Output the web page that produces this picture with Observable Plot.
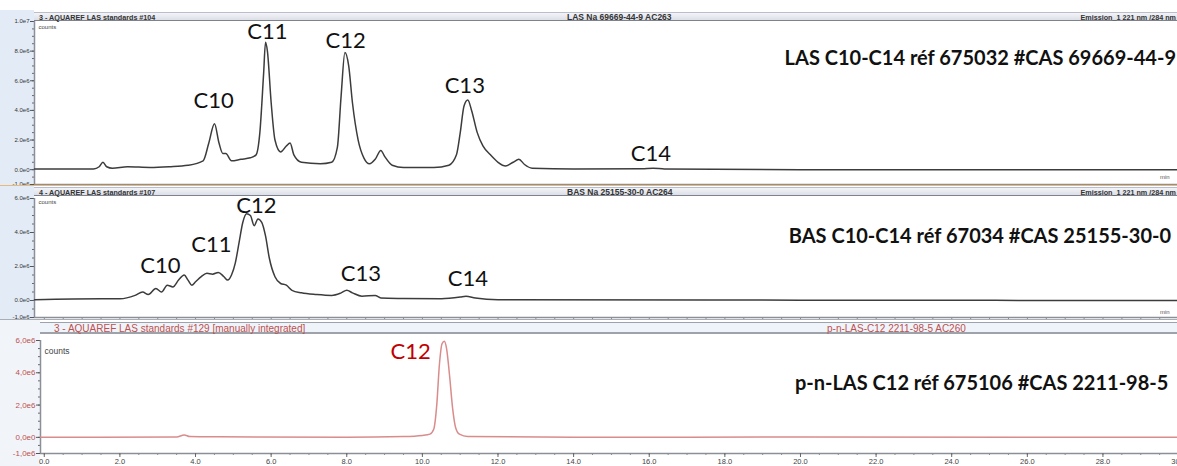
<!DOCTYPE html>
<html><head><meta charset="utf-8">
<script src="https://cdn.jsdelivr.net/npm/d3@7"></script>
<script src="https://cdn.jsdelivr.net/npm/@observablehq/plot@0.6"></script>
<style>
html,body{margin:0;padding:0;background:#fff;overflow:hidden;}
#chart{position:relative;width:1177px;height:466px;overflow:hidden;font-family:"Liberation Sans",Arial,sans-serif;}
.abs{position:absolute;}
.hdr{position:absolute;box-sizing:border-box;background:linear-gradient(#f3f4f8,#dcdfe7);border-top:1px solid #b9bec8;border-bottom:1px solid #7d828c;font-size:7.2px;font-weight:bold;color:#333;white-space:nowrap;}
.hdr span{position:absolute;top:50%;transform:translateY(-50%);}
.svgbox{position:absolute;left:0;}
</style></head><body><div id="chart"></div><script>
// ---------- data ----------
const xTicks = [0,2,4,6,8,10,12,14,16,18,20,22,24,26,28,30];
const xTickLabels = ["0.0","2.0","4.0","6.0","8.0","10.0","12.0","14.0","16.0","18.0","20.0","22.0","24.0","26.0","28.0","30.0"];

// Panel 1 : LAS C10-C14 (counts in millions)
const lasTime   = [-0.26,0,1.3,1.45,1.55,1.65,1.8,2.2,2.8,3.3,3.8,4.2,4.35,4.5,4.62,4.72,4.8,4.95,5.2,5.45,5.6,5.7,5.8,5.85,5.9,6.0,6.1,6.25,6.4,6.5,6.6,6.8,7.3,7.6,7.75,7.85,7.95,8.05,8.15,8.3,8.45,8.6,8.75,8.9,9.0,9.2,9.5,10.3,10.7,10.9,11.0,11.1,11.2,11.3,11.45,11.6,11.8,12.0,12.2,12.4,12.55,12.7,12.9,14,15.8,16.1,16.4,20,25,29.97];
const lasCounts = [0.05,0.05,0.05,0.2,0.5,0.2,0.1,0.2,0.15,0.2,0.3,0.6,1.8,3.1,1.8,1.1,1.1,0.6,0.7,0.8,1.0,2.5,6.5,8.6,8.0,4.5,2.0,1.2,1.6,1.8,1.0,0.5,0.4,0.5,1.5,5.0,7.9,7.0,4.5,2.0,0.8,0.4,0.7,1.3,0.9,0.3,0.15,0.15,0.3,1.0,2.5,4.3,4.7,4.0,2.5,1.6,1.0,0.5,0.25,0.5,0.7,0.35,0.1,0.05,0.06,0.1,0.05,0.0,0.0,0.0];
const lasPeakNames = ["C10","C11","C12","C13","C14"];
const lasPeakTime  = [4.48,5.90,7.97,11.12,16.04];
const lasPeakLabel = [4.67,9.32,8.72,5.68,1.09];

// Panel 2 : BAS C10-C14
const basTime   = [-0.26,1.5,2.0,2.4,2.6,2.75,2.95,3.1,3.25,3.4,3.55,3.7,3.8,3.9,4.0,4.15,4.3,4.45,4.6,4.75,4.85,4.95,5.05,5.15,5.25,5.35,5.45,5.55,5.65,5.75,5.85,5.95,6.1,6.25,6.4,6.55,6.8,7.2,7.6,7.85,8.0,8.15,8.4,8.75,8.9,9.5,10.5,11.0,11.15,11.4,12,20,29.97];
const basCounts = [0.05,0.1,0.1,0.3,0.5,0.35,0.7,0.5,0.9,0.8,1.2,1.5,1.2,0.9,1.1,1.4,1.6,1.55,1.65,1.4,1.2,1.5,2.2,3.4,4.6,5.1,5.0,4.4,4.8,4.6,3.8,2.5,1.4,1.0,0.9,0.6,0.45,0.35,0.3,0.45,0.6,0.45,0.25,0.3,0.15,0.12,0.1,0.2,0.25,0.15,0.05,0.02,0.0];
const basPeakNames = ["C10","C11","C12","C13","C14"];
const basPeakTime  = [3.07,4.42,5.61,8.37,11.2];
const basPeakLabel = [2.06,3.24,5.59,1.59,1.24];

// Panel 3 : p-n-LAS C12
const pnTime   = [-0.1,3.5,3.7,3.85,4.6,8,9.5,10.0,10.2,10.3,10.38,10.45,10.52,10.58,10.64,10.72,10.8,10.88,10.98,11.2,14,20,30.58];
const pnCounts = [0.0,0.02,0.15,0.05,0.03,0.0,0.05,0.12,0.2,0.5,2.0,4.5,5.8,5.95,5.5,3.8,1.8,0.6,0.2,0.05,0.0,0.02,0.0];
const pnPeakNames = ["C12"];
const pnPeakTime  = [9.69];
const pnPeakLabel = [5.26];

const yTicksA  = [-1e6,0,2e6,4e6,6e6,8e6,1e7];
const yLabelsA = ["-1.0e6","0.0e0","2.0e6","4.0e6","6.0e6","8.0e6","1.0e7"];
const yTicksB  = [-1e6,0,2e6,4e6,6e6];
const yLabelsB = ["-1.0e6","0.0e0","2.0e6","4.0e6","6.0e6"];
const yLabelsC = ["-1,0e6","0,0e0","2,0e6","4,0e6","6,0e6"];

const titles = ["LAS C10-C14 réf 675032 #CAS 69669-44-9","BAS C10-C14 réf 67034 #CAS 25155-30-0","p-n-LAS C12 réf 675106 #CAS 2211-98-5"];
const titleY = [7.5, 3.76, 3.34];

// ---------- drawing ----------
const chart = document.getElementById("chart");
function div(style, html, cls) {
  const d = document.createElement("div");
  d.className = cls || "abs";
  d.setAttribute("style", style);
  if (html) d.innerHTML = html;
  chart.appendChild(d);
  return d;
}

function panel(cfg) {
  const rows = cfg.time.map((t, i) => ({t, v: cfg.counts[i] * 1e6}));
  const peaks = cfg.names.map((n, i) => ({n, t: cfg.peakTime[i], v: cfg.peakLabel[i] * 1e6}));
  const fmt = new Map(cfg.yTicks.map((d, i) => [d, cfg.yLabels[i]]));
  const xfmt = new Map(xTicks.map((d, i) => [d, xTickLabels[i]]));
  const yMinor = d3.range(cfg.yDomain[0], cfg.yDomain[1] + 1, 5e5);
  const xMinor = d3.range(0, 31, 0.5);
  const marks = [
    Plot.frame({fill: "white", stroke: "none"}),
    Plot.axisY({ticks: yMinor, tickSize: 2, tickFormat: () => "", stroke: "#666", label: null}),
    Plot.axisY({ticks: cfg.yTicks, tickSize: 4, tickPadding: 1, tickFormat: d => fmt.get(d), fontSize: cfg.yFont, fill: cfg.yColor, stroke: "#555", label: null}),
    Plot.axisX({ticks: xMinor, tickSize: 2, tickFormat: () => "", stroke: "#888", label: null}),
    Plot.ruleX([cfg.xDomain[0]], {stroke: "#8a8f98", strokeWidth: 1.5}),
    Plot.ruleY([cfg.yDomain[0]], {stroke: "#8a8f98", strokeWidth: 1.5}),
    Plot.text(["counts"], {frameAnchor: "top-left", dx: 4, dy: cfg.countsDy, fontSize: cfg.countsFont, fill: "#444"}),
    Plot.line(rows, {x: "t", y: "v", stroke: cfg.color, strokeWidth: 1.5, curve: "monotone-x"}),
    Plot.text(peaks, {x: "t", y: "v", text: "n", fontSize: 22, fontFamily: "Lato", fill: cfg.peakColor}),
    Plot.text([{s: cfg.title, v: cfg.titleY * 1e6}], {x: () => cfg.titleX, y: "v", text: "s", textAnchor: "end", fontSize: 20, fontWeight: "bold", fontFamily: "Lato", fill: "#111"})
  ];
  if (cfg.xAxis) {
    marks.push(Plot.axisX({ticks: xTicks, tickSize: 4, tickPadding: 1, tickFormat: d => xfmt.get(d), fontSize: 7.5, fill: "#444", stroke: "#666", label: null}));
  }
  const svg = Plot.plot({
    width: cfg.width, height: cfg.height,
    marginLeft: cfg.marginLeft, marginRight: 0, marginTop: cfg.marginTop, marginBottom: cfg.marginBottom,
    style: {background: "transparent", fontFamily: "Liberation Sans, Arial, sans-serif", overflow: "visible"},
    x: {domain: cfg.xDomain, axis: null, label: null},
    y: {domain: cfg.yDomain, axis: null, label: null},
    marks
  });
  const box = div(`top:${cfg.top}px;left:0;width:${cfg.width}px;height:${cfg.height}px;`, null, "svgbox");
  box.appendChild(svg);
}

// left margin backgrounds
div("left:0;top:10px;width:34px;height:176px;background:#e3ecf6;");
div("left:0;top:186px;width:34px;height:133px;background:#e3ecf6;");
div("left:0;top:320px;width:40px;height:146px;background:#f1f5fa;");

panel({top: 10, height: 176, width: 1177, marginLeft: 34, marginTop: 11, marginBottom: 2,
  xDomain: [-0.26, 29.97], yDomain: [-1e6, 1e7], yTicks: yTicksA, yLabels: yLabelsA, yFont: 6, yColor: "#333",
  time: lasTime, counts: lasCounts, names: lasPeakNames, peakTime: lasPeakTime, peakLabel: lasPeakLabel,
  color: "#3c3c3c", peakColor: "#111", title: titles[0], titleY: titleY[0], titleX: 29.93, countsDy: 3, countsFont: 6});

panel({top: 186, height: 133, width: 1177, marginLeft: 34, marginTop: 12, marginBottom: 2,
  xDomain: [-0.26, 29.97], yDomain: [-1e6, 6e6], yTicks: yTicksB, yLabels: yLabelsB, yFont: 6, yColor: "#333",
  time: basTime, counts: basCounts, names: basPeakNames, peakTime: basPeakTime, peakLabel: basPeakLabel,
  color: "#3c3c3c", peakColor: "#111", title: titles[1], titleY: titleY[1], titleX: 29.8, countsDy: 1, countsFont: 6});

panel({top: 330, height: 136, width: 1200, marginLeft: 40, marginTop: 10, marginBottom: 13,
  xDomain: [-0.1, 30.58], yDomain: [-1e6, 6e6], yTicks: yTicksB, yLabels: yLabelsC, yFont: 8, yColor: "#c0504d",
  time: pnTime, counts: pnCounts, names: pnPeakNames, peakTime: pnPeakTime, peakLabel: pnPeakLabel,
  color: "#d98c8c", peakColor: "#c00000", title: titles[2], titleY: titleY[2], titleX: 29.73, countsDy: 7, countsFont: 8.5, xAxis: true});

// header bars
div("left:34px;top:12px;width:1143px;height:9px;", "<span style='left:5px'>3 - AQUAREF LAS standards #104</span><span style='left:533px;font-size:8.5px'>LAS Na 69669-44-9 AC263</span><span style='right:1px'>Emission_1 221 nm /284 nm</span>", "hdr");
div("left:0;top:185px;width:1177px;height:1px;background:#e9b97a;");
div("left:34px;top:187px;width:1143px;height:9px;", "<span style='left:5px'>4 - AQUAREF LAS standards #107</span><span style='left:533px;font-size:8.5px'>BAS Na 25155-30-0 AC264</span><span style='right:1px'>Emission_1 221 nm /284 nm</span>", "hdr");
div("left:0;top:319px;width:1177px;height:1px;background:#a9adb5;");
div("left:40px;top:322px;width:1137px;height:12px;background:#eef4fa;font-weight:normal;color:#c0504d;font-size:10px;border-top:1px solid #9ea3ab;border-bottom:2px solid #9ea3ab;", "<span style='left:14px'>3 - AQUAREF LAS standards #129 [manually integrated]</span><span style='left:787px'>p-n-LAS-C12 2211-98-5 AC260</span>", "hdr");
div("left:1160px;top:174px;font-size:6px;color:#555;", "min");
div("left:1160px;top:309px;font-size:6px;color:#555;", "min");
</script></body></html>
